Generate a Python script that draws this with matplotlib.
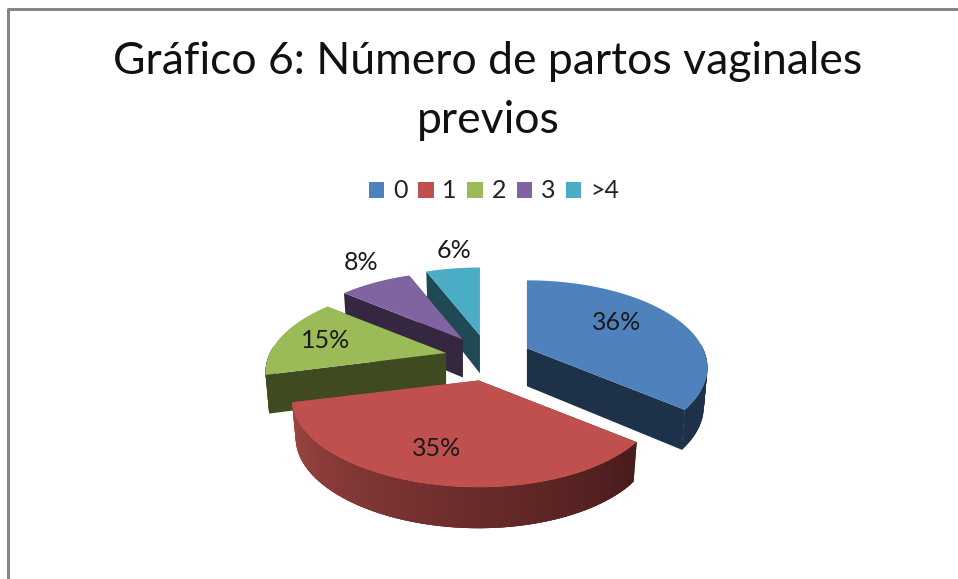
import numpy as np
import matplotlib
matplotlib.use('Agg')
import matplotlib.pyplot as plt
from matplotlib.patches import Polygon, Patch
from matplotlib.lines import Line2D

plt.rcParams['font.family'] = ['Lato', 'DejaVu Sans']

title = 'Gráfico 6: Número de partos vaginales\nprevios'
categories = ['0', '1', '2', '3', '>4']
values = [36, 35, 15, 8, 6]

top_colors = ['#4f81bd', '#c0504d', '#9bbb59', '#8064a2', '#4bacc6']
side_colors = ['#1d3149', '#7a3532', '#404a20', '#352740', '#1f4a55']
label_pos = [(617, 322), (437, 449), (326, 340), (361, 262), (454, 251)]

# pie geometry in pixels
cx, cy = 488, 358
rx, ry, persp = 176, 83, 0.223
ex, ey = 43, 23
depth = 38
text_col = '#1a1a1a'

fig = plt.figure(figsize=(9.58, 5.79), dpi=100)
ax = fig.add_axes([0, 0, 1, 1])
ax.set_xlim(0, 958)
ax.set_ylim(579, 0)
ax.axis('off')


def rim(t, ox, oy, stretch=0.0):
    s = 1 / (1 + persp * np.cos(t))
    # stretch only pulls the left side outwards, the front slice needs it
    wide = 1 + stretch * np.clip(-np.sin(t), 0, 1)
    return ox + rx * np.sin(t) * s * wide, oy - ry * np.cos(t) * s


def lower(x, y, t, ox, oy):
    # bottom face sits lower and very slightly closer to the apex
    return ox + (x - ox) * 0.98, y + depth - 3 * np.cos(t)


def red_shade(t):
    # only the big front slice has a visible gradient on its rim
    f = np.clip((t - np.radians(129.6)) / np.radians(126), 0, 1)
    c0 = np.array([0x4a, 0x1c, 0x1c]) / 255
    c1 = np.array([0xa0, 0x47, 0x43]) / 255
    return c0 + (c1 - c0) * f ** 1.1


# back slices first so the front ones cover them
bounds = np.radians(np.cumsum([0] + values) * 3.6)
order = [4, 3, 2, 0, 1]
for i in order:
    t0, t1 = bounds[i], bounds[i + 1]
    mid = (t0 + t1) / 2
    ox = cx + ex * np.sin(mid)
    oy = cy - ey * np.cos(mid)
    ts = np.linspace(t0, t1, 90)
    x, y = rim(ts, ox, oy, 0.035 if i == 1 else 0.0)
    xb, yb = lower(x, y, ts, ox, oy)
    oyb = oy + depth
    z = order.index(i) * 3

    for j in (0, -1):
        col = red_shade(ts[j]) if i == 1 else side_colors[i]
        ax.add_patch(Polygon([(ox, oy), (x[j], y[j]), (xb[j], yb[j]), (ox, oyb)],
                             fc=col, ec='none', zorder=z + 1))

    # rim strips overlap the next one so no seams show
    for j in range(len(ts) - 1):
        if np.cos(ts[j]) > 0.05:
            continue
        k = min(j + 3, len(ts) - 1)
        col = red_shade(ts[j]) if i == 1 else side_colors[i]
        ax.add_patch(Polygon([(x[j], y[j]), (x[k], y[k]), (xb[k], yb[k]), (xb[j], yb[j])],
                             fc=col, ec='none', zorder=z + 2))

    ax.add_patch(Polygon(np.vstack([[ox, oy], np.column_stack([x, y])]),
                         fc=top_colors[i], ec='none', zorder=z + 3))

for v, (px, py) in zip(values, label_pos):
    ax.text(px, py, f'{v}%', fontsize=18, color=text_col, ha='center', va='center', zorder=30)

fig.text(488 / 958, 1 - 91 / 579, title, fontsize=32, color='#111111', ha='center',
         va='center', linespacing=1.52)

handles = [Patch(fc=c, ec='none') for c in top_colors]
fig.legend(handles, categories, loc='center', bbox_to_anchor=(494 / 958, 1 - 191 / 579),
           ncol=5, frameon=False, fontsize=18, handlelength=0.62, handleheight=0.62,
           handletextpad=0.35, columnspacing=0.42, labelcolor='#222222')

# chart frame, cut off by the screenshot on the right and at the bottom
ax.add_line(Line2D([8.5, 8.5, 958], [579, 9, 9], color='#868686', lw=2.2, zorder=40))

fig.savefig('out.png', dpi=100)
